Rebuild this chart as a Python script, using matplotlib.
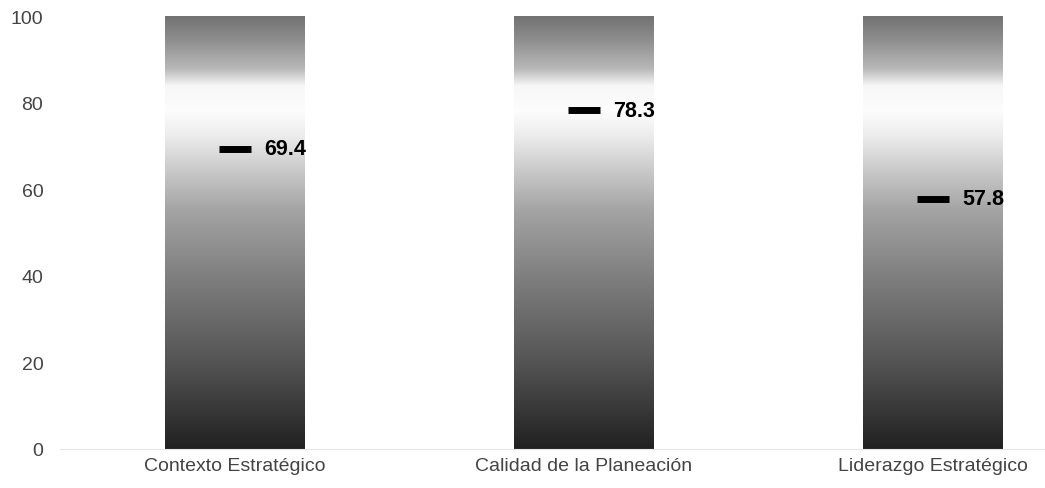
import numpy as np
import matplotlib.pyplot as plt
from matplotlib.colors import LinearSegmentedColormap

plt.rcParams['font.family'] = ['Liberation Sans', 'DejaVu Sans']

# ------------------------------- Data ------------------------------- #
categories = ['Contexto Estratégico', 'Calidad de la Planeación', 'Liderazgo Estratégico']
values = [69.4, 78.3, 57.8]
yticks = [0, 20, 40, 60, 80, 100]

# grey gradient painted inside each bar (position along bar, grey level)
grad_stops = [(0.00, 0.13), (0.20, 0.33), (0.40, 0.50), (0.55, 0.64),
              (0.65, 0.80), (0.72, 0.92), (0.78, 0.99), (0.84, 0.97),
              (0.88, 0.72), (0.95, 0.55), (1.00, 0.45)]
cmap = LinearSegmentedColormap.from_list(
    'bargrey', [(p, (g, g, g)) for p, g in grad_stops])

# ------------------------------- Plot ------------------------------- #
fig = plt.figure(figsize=(10.45, 4.89), dpi=100)
ax = fig.add_axes([0.0574, 0.0798, 0.9426, 0.885])

width = 0.4
grad = np.linspace(0, 1, 256).reshape(-1, 1)
for i, (cat, v) in enumerate(zip(categories, values)):
    ax.imshow(grad, cmap=cmap, origin='lower', aspect='auto',
              extent=[i - width / 2, i + width / 2, 0, 100], zorder=1)
    ax.hlines(v, i - 0.046, i + 0.046, colors='black', lw=5, zorder=3)
    ax.text(i + 0.084, v, f'{v:.1f}', fontsize=15.5, fontweight='bold',
            va='center', ha='left', color='black', zorder=4)

ax.set_xlim(-0.5, 2.32)
ax.set_ylim(0, 100)
ax.set_xticks(range(len(categories)))
ax.set_xticklabels(categories, fontsize=14, color='#444444')
ax.set_yticks(yticks)
ax.set_yticklabels([str(t) for t in yticks], fontsize=14, color='#444444')
ax.tick_params(axis='both', length=0)
ax.tick_params(axis='y', pad=12)
ax.tick_params(axis='x', pad=6)
for side in ['top', 'right', 'left']:
    ax.spines[side].set_visible(False)
ax.spines['bottom'].set_color('#e6e6e6')

plt.savefig('out.png', dpi=100)
